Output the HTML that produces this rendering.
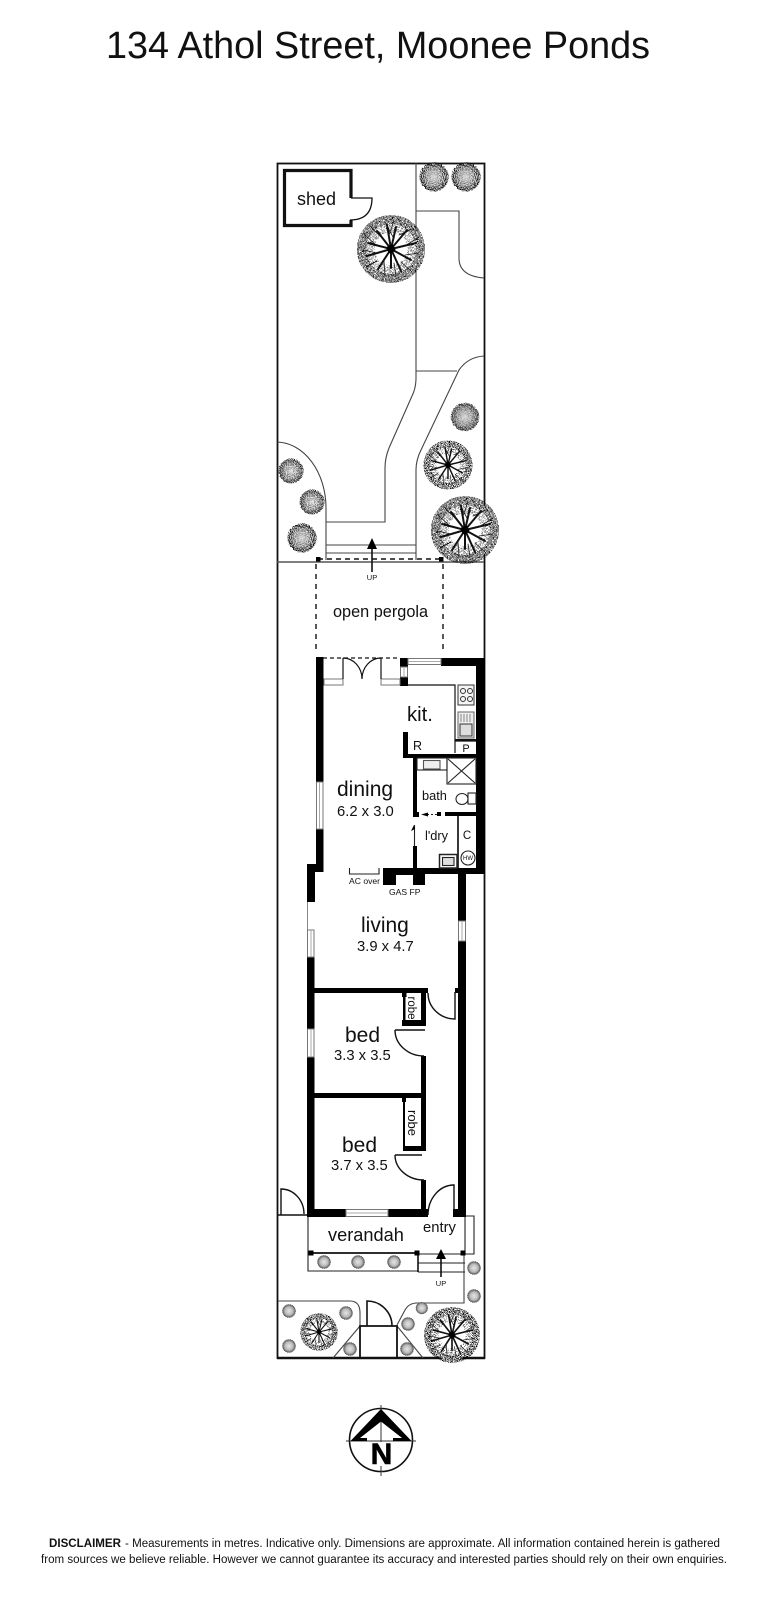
<!DOCTYPE html>
<html><head><meta charset="utf-8"><style>
html,body{margin:0;padding:0;background:#fff}
svg{display:block;filter:blur(.3px)}
text{font-family:"Liberation Sans",sans-serif;fill:#111}
</style></head><body>
<svg width="768" height="1600" viewBox="0 0 768 1600" xmlns="http://www.w3.org/2000/svg">
<defs>
<radialGradient id="sg"><stop offset="0" stop-color="#f4f4f4"/><stop offset=".6" stop-color="#d8d8d8"/><stop offset="1" stop-color="#aaa"/></radialGradient>
<radialGradient id="edge"><stop offset="0" stop-color="#000" stop-opacity=".25"/><stop offset=".6" stop-color="#000" stop-opacity=".55"/><stop offset="1" stop-color="#000"/></radialGradient>
<radialGradient id="gg"><stop offset="0" stop-color="#e6e6e6"/><stop offset=".6" stop-color="#bbb"/><stop offset="1" stop-color="#666"/></radialGradient>
<filter id="sp" x="-40%" y="-40%" width="180%" height="180%">
<feTurbulence type="fractalNoise" baseFrequency="1" numOctaves="2" seed="4" result="n"/>
<feColorMatrix in="n" type="matrix" values="0 0 0 0 0 0 0 0 0 0 0 0 0 0 0 9 0 0 0 -4.100" result="m"/>
<feComposite in="SourceGraphic" in2="m" operator="in"/>
</filter>
<filter id="sp2" x="-40%" y="-40%" width="180%" height="180%">
<feTurbulence type="fractalNoise" baseFrequency="1" numOctaves="2" seed="9" result="n"/>
<feColorMatrix in="n" type="matrix" values="0 0 0 0 0 0 0 0 0 0 0 0 0 0 0 9 0 0 0 -5" result="m"/>
<feComposite in="SourceGraphic" in2="m" operator="in"/>
</filter>
<g id="tree">
<circle r="31" fill="#fff"/>
<circle r="29.500" fill="none" stroke="#000" stroke-width="9" filter="url(#sp)"/>
<circle r="21" fill="none" stroke="#000" stroke-width="9" filter="url(#sp2)"/>
<g stroke="#111" fill="none" stroke-linecap="round">
<g stroke-width="2"><path d="M0 0L5-22M0 0L16-19M0 0L25-6M0 0L20 11M0 0L10 22M0 0L0 19M0 0L-13 20M0 0L-24 7M0 0L-23-6M0 0L-14-18M0 0L-4-24"/></g>
<g stroke-width=".8"><path d="M2-12L-6-27M8-14L21-20M14-3L28-12M14 6L28 4M10 13L21 23M3 14L5 27M-7 12L-6 27M-14 4L-28 1M-14 12L-25 18M-14-3L-27-15M-9-11L-21-23M-2-14L3-28"/></g>
</g>
<circle r="3.800" fill="#000"/>
<path d="M-4-1.500L4 1.500M-1.500 4L1.500-4" stroke="#000" stroke-width="3"/>
</g>
<g id="shrub">
<circle r="13" fill="url(#sg)"/>
<circle r="14" fill="url(#edge)" filter="url(#sp)"/>
</g>
<g id="gs">
<circle r="6.500" fill="url(#gg)"/>
<circle r="6.300" fill="none" stroke="#555" stroke-width="1" stroke-dasharray="1 .8"/>
</g>
</defs>

<text x="106" y="58" font-size="37.700" textLength="544" lengthAdjust="spacingAndGlyphs">134 Athol Street, Moonee Ponds</text>

<!-- outer boundary -->
<rect x="277.500" y="163.500" width="207" height="1194.500" fill="none" stroke="#111" stroke-width="1.800"/>
<path d="M277 1358H485" stroke="#111" stroke-width="2.400"/>

<!-- garden lines -->
<g fill="none" stroke="#444" stroke-width="1.100">
<path d="M416 163V378Q416 388 412 396L389 448Q385 458 385 468V522H326"/>
<path d="M416 211H459V258Q459 276 484 278"/>
<path d="M416 371H457"/>
<path d="M484 356Q468 357 459 370L421 450Q416 460 416 470V560"/>
<path d="M277.500 442A50 66 0 0 1 326 507V560"/>
<path d="M326 545H416M326 553H416"/>
<path d="M277 562H484" stroke="#555" stroke-width="1.400"/>
<path d="M464 1254V1303H417Q409 1303 405 1310L397 1325"/>
<path d="M278 1301H350Q360 1301 360 1313V1326"/>
<path d="M360 1326L333 1358M397 1326L423 1358"/>
</g>

<!-- shed -->
<path d="M351 198V170.500H284.500V225.500H351V220" fill="none" stroke="#111" stroke-width="3.200"/>
<path d="M351 198H372Q372 220 350 220" fill="none" stroke="#111" stroke-width="1.300"/>
<text x="297" y="205" font-size="18">shed</text>

<!-- trees/shrubs -->
<use href="#tree" transform="translate(391 249)"/>
<use href="#shrub" transform="translate(434 177) scale(1.05)"/>
<use href="#shrub" transform="translate(466 177) scale(1.05)"/>
<use href="#shrub" transform="translate(465 417) scale(1.02)"/>
<use href="#tree" transform="translate(448 465) scale(.72)"/>
<use href="#tree" transform="translate(465 530)"/>
<use href="#shrub" transform="translate(291 471) scale(.9)"/>
<use href="#shrub" transform="translate(312 502) scale(.9)"/>
<use href="#shrub" transform="translate(302 538) scale(1.05)"/>
<use href="#tree" transform="translate(319 1332) scale(.55)"/>
<use href="#tree" transform="translate(452 1335) scale(.82)"/>
<g>
<use href="#gs" x="289" y="1311"/><use href="#gs" x="346" y="1313"/><use href="#gs" x="289" y="1346"/><use href="#gs" x="350" y="1349"/>
<use href="#gs" x="408" y="1324"/><use href="#gs" x="422" y="1309" transform="translate(42 130) scale(.9)"/><use href="#gs" x="407" y="1349"/>
<use href="#gs" x="474" y="1268"/><use href="#gs" x="474" y="1296"/>
<use href="#gs" x="324" y="1262"/><use href="#gs" x="358" y="1262"/><use href="#gs" x="394" y="1262"/>
</g>

<!-- pergola -->
<path d="M318 559H441" stroke="#111" stroke-width="1.400" stroke-dasharray="5 4" fill="none"/>
<rect x="316" y="557" width="4.500" height="4.500" fill="#000"/><rect x="439" y="557" width="4.500" height="4.500" fill="#000"/>
<path d="M316 564V653M443 564V653" stroke="#111" stroke-width="1.400" stroke-dasharray="5 5" fill="none"/>
<path d="M372 572V548" stroke="#111" stroke-width="1.600"/><path d="M372 538L377 549H367Z" fill="#000"/>
<text x="372" y="580" font-size="7.500" text-anchor="middle" fill="#333">UP</text>
<text x="333" y="617" font-size="16.300">open pergola</text>

<!-- thick walls -->
<g fill="#000">
<rect x="316" y="657" width="7.500" height="125"/>
<rect x="316" y="829" width="7.500" height="43"/>
<rect x="307" y="864" width="16" height="8"/>
<rect x="307" y="864" width="8" height="38"/>
<rect x="400" y="658" width="8" height="9"/>
<rect x="400" y="677" width="8" height="9"/>
<rect x="441" y="658" width="44" height="8"/>
<rect x="476" y="658" width="9" height="215"/>
<rect x="413" y="868" width="72" height="6"/>
<rect x="383" y="868" width="42" height="17"/>
<rect x="413" y="846" width="4" height="24"/>
<rect x="403" y="732" width="5" height="26"/>
<rect x="403" y="754" width="73" height="4"/>
<rect x="413" y="758" width="4" height="59"/>
<rect x="445" y="812" width="31" height="4"/>
<rect x="413" y="812" width="6" height="5"/>
<rect x="437" y="812" width="4" height="4"/>
<rect x="307" y="957" width="7.500" height="72"/>
<rect x="307" y="1057" width="7.500" height="160"/>
<rect x="458" y="874" width="8" height="47"/>
<rect x="458" y="941" width="8" height="276"/>
<rect x="314" y="988" width="114" height="5"/>
<rect x="421" y="993" width="5" height="33"/>
<rect x="402" y="1020" width="24" height="6"/>
<rect x="403" y="993" width="2.500" height="27"/>
<rect x="402" y="993" width="4.500" height="4"/>
<rect x="421" y="1056" width="5" height="75"/>
<rect x="314" y="1093" width="108" height="5"/>
<rect x="421" y="1093" width="5" height="58"/>
<rect x="403" y="1146" width="23" height="5"/>
<rect x="403" y="1098" width="2" height="50"/>
<rect x="402" y="1098" width="4" height="4"/>
<rect x="421" y="1180" width="5" height="37"/>
<rect x="307" y="1209" width="39" height="8"/>
<rect x="388" y="1209" width="40" height="8"/>
<rect x="453" y="1209" width="13" height="8"/>
<rect x="455" y="988" width="3" height="5"/>
</g>
<rect x="396" y="875" width="17" height="10" fill="#fff"/>
<path d="M307.500 902V930" stroke="#888" stroke-width="1"/>

<!-- windows -->
<g fill="#fff" stroke="#777" stroke-width="1">
<rect x="316.500" y="782" width="6.500" height="47"/>
<rect x="307.500" y="930" width="6.500" height="27"/>
<rect x="307.500" y="1029" width="6.500" height="28"/>
<rect x="458.500" y="921" width="7" height="20"/>
<rect x="346" y="1209.500" width="42" height="7"/>
<rect x="408" y="658.500" width="33" height="6"/>
<rect x="400.500" y="667" width="7" height="10"/>
<rect x="324" y="679" width="19" height="6"/>
<rect x="381" y="679" width="19" height="6"/>
</g>
<path d="M319.500 782V829M311 930V957M311 1029V1057M462 921V941M346 1213H388M408 661.500H441M404 667V677" stroke="#aaa" stroke-width="1"/>

<!-- french doors + rear -->
<path d="M323 658H400" stroke="#111" stroke-width="1.200" stroke-dasharray="4 3"/>
<g fill="none" stroke="#111" stroke-width="1.200">
<path d="M343 658V679M381 658V679"/>
<path d="M343 658A19 21 0 0 1 362 679M381 658A19 21 0 0 0 362 679"/>
<path d="M408 685H455V753"/>
<path d="M455 741H476"/>
</g>

<!-- kitchen fittings -->
<g fill="none" stroke="#333" stroke-width="1">
<rect x="458" y="685" width="16" height="20" fill="#f4f4f4"/>
<circle cx="463" cy="691" r="2.500"/><circle cx="470" cy="691" r="2.500"/><circle cx="463" cy="699" r="2.500"/><circle cx="470" cy="699" r="2.500"/>
<rect x="458" y="712" width="16" height="26" fill="#eee" stroke="#666"/>
<rect x="460" y="724" width="12" height="12" fill="#ddd"/>
<path d="M461 714V722M464 714V722M467 714V722M470 714V722" stroke="#888"/>
</g>
<rect x="455" y="739" width="21" height="2" fill="#111"/>
<text x="466" y="752" font-size="11" text-anchor="middle">P</text>
<text x="407" y="721" font-size="20.300">kit.</text>
<text x="413" y="750" font-size="12.500">R</text>

<!-- bath -->
<g fill="none" stroke="#222" stroke-width="1.100">
<rect x="417" y="758" width="30" height="12"/>
<rect x="423.500" y="760.500" width="16.500" height="8.500" fill="#eee" stroke="#555"/>
<rect x="447" y="758" width="29" height="26"/>
<path d="M448 759L475 783M475 759L448 783"/>
<ellipse cx="462" cy="799" rx="6" ry="5.500"/>
<rect x="468" y="793" width="8" height="11"/>
<path d="M427 814.500H437" stroke-dasharray="2 2"/>
<path d="M458 816V868" stroke-width="1.800"/>
<path d="M414.500 846V825"/>
<circle cx="468" cy="858" r="7"/>
<rect x="439.500" y="854.500" width="17.500" height="13.500" stroke-width="1.500"/>
<rect x="442.500" y="857.500" width="11.500" height="8" fill="#ddd"/>
<path d="M349.500 868V874H379V868"/>
</g>
<path d="M421 814.500L428 812.500V816.500Z" fill="#000"/>
<path d="M414 825L411 831L415 829Z" fill="#000"/>
<text x="422" y="800" font-size="12.800">bath</text>
<text x="425" y="840" font-size="12.800">l'dry</text>
<text x="467" y="839" font-size="11.500" text-anchor="middle">C</text>
<text x="468" y="860" font-size="6" text-anchor="middle">HW</text>

<!-- labels -->
<text x="337" y="796" font-size="21">dining</text>
<text x="337" y="816" font-size="14.800">6.2 x 3.0</text>
<text x="349" y="884" font-size="8.600" fill="#333">AC over</text>
<text x="389" y="895" font-size="8.600" fill="#333">GAS FP</text>
<text x="361" y="932" font-size="21">living</text>
<text x="357" y="951" font-size="14.800">3.9 x 4.7</text>
<text x="345" y="1042" font-size="21">bed</text>
<text x="334" y="1060" font-size="14.800">3.3 x 3.5</text>
<text x="342" y="1152" font-size="21">bed</text>
<text x="331" y="1170" font-size="14.800">3.7 x 3.5</text>
<text transform="translate(408 1008) rotate(90)" font-size="11.500" text-anchor="middle">robe</text>
<text transform="translate(408 1123) rotate(90)" font-size="13" text-anchor="middle">robe</text>

<!-- interior doors -->
<g fill="none" stroke="#111" stroke-width="1.400">
<path d="M428 993A27 26 0 0 0 455 1019V992"/>
<path d="M395 1030H425M395 1030A29 26 0 0 0 424 1056"/>
<path d="M395 1155H422M395 1155A29 25 0 0 0 424 1180"/>
<path d="M454 1210V1185A26 30 0 0 0 428 1215"/>
<path d="M278 1215H307M281 1215V1189A23 25 0 0 1 304 1214"/>
<path d="M367 1326V1301A25 25 0 0 1 392 1326" stroke-width="1.600"/>
</g>
<path d="M360 1358V1326H397V1358" fill="none" stroke="#111" stroke-width="1.800"/>

<!-- verandah -->
<g fill="none" stroke="#222" stroke-width="1.100">
<path d="M308 1217V1271H418"/>
<path d="M466 1216H474V1254H418"/>
<path d="M465 1217V1254"/>
<path d="M418 1263H465M418 1272H465"/>
</g>
<path d="M311 1253H417" stroke="#111" stroke-width="1.800"/>
<path d="M418 1254V1272" stroke="#111" stroke-width="1.600"/>
<rect x="308.500" y="1250.500" width="5" height="5" fill="#000"/><rect x="414.500" y="1250.500" width="5" height="5" fill="#000"/><rect x="460.500" y="1250.500" width="5" height="5" fill="#000"/>
<text x="328" y="1241" font-size="18.200">verandah</text>
<text x="423" y="1232" font-size="14.800">entry</text>
<path d="M441 1277V1257" stroke="#111" stroke-width="1.600"/><path d="M441 1249L446 1259H436Z" fill="#000"/>
<text x="441" y="1286" font-size="7.500" text-anchor="middle" fill="#333">UP</text>

<!-- north -->
<circle cx="381" cy="1440" r="31.500" fill="none" stroke="#111" stroke-width="1.600"/>
<path d="M346 1441H416M381 1405V1476" stroke="#333" stroke-width="1"/>
<path d="M381 1409L411.500 1441H393V1438H402L381 1421.500L360 1438H367V1441H350.500Z" fill="#000"/>
<rect x="369" y="1442" width="24" height="24" fill="#fff"/>
<text x="381.500" y="1464" font-size="30" font-weight="bold" text-anchor="middle" style="fill:#000;stroke:#000;stroke-width:.6">N</text>

<!-- disclaimer -->
<text x="49" y="1547" font-size="11.500" font-weight="bold" textLength="72" lengthAdjust="spacingAndGlyphs">DISCLAIMER</text>
<text x="125" y="1547" font-size="11.500" textLength="595" lengthAdjust="spacingAndGlyphs">- Measurements in metres. Indicative only. Dimensions are approximate. All information contained herein is gathered</text>
<text x="41" y="1563" font-size="11.500" textLength="686" lengthAdjust="spacingAndGlyphs">from sources we believe reliable. However we cannot guarantee its accuracy and interested parties should rely on their own enquiries.</text>
</svg>
</body></html>
